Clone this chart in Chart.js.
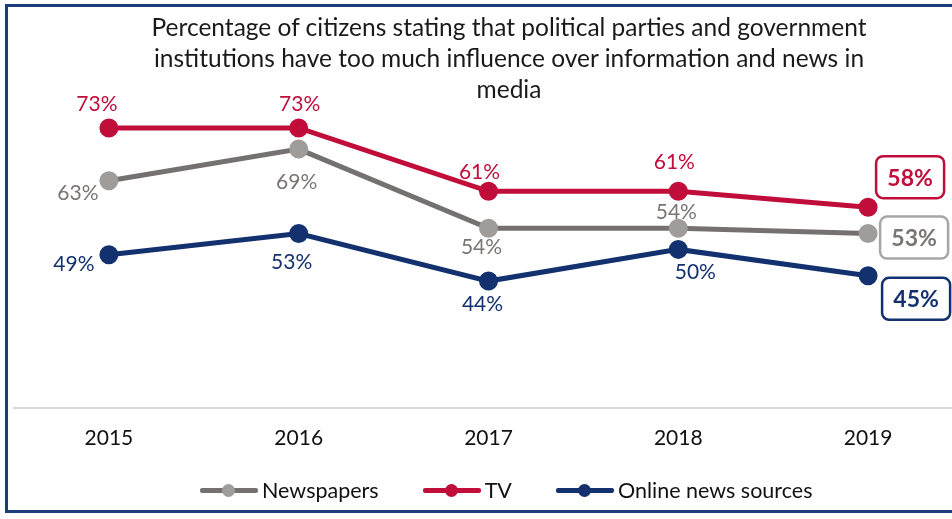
<!DOCTYPE html>
<html>
<head>
<meta charset="utf-8">
<script src="https://cdn.jsdelivr.net/npm/chart.js@4.4.1/dist/chart.umd.min.js"></script>
<style>
  html, body { margin: 0; padding: 0; background: #fff; overflow: hidden; }
  #wrap { position: relative; width: 952px; height: 519px; overflow: hidden; }
  #frame {
    position: absolute; left: 5px; top: 4px; width: 1000px; height: 509px;
    border: 3px solid #1c3d7a; box-sizing: border-box; pointer-events: none;
  }
  #chart { position: absolute; left: 0; top: 0; }
  #title {
    position: absolute; top: 11px; left: 509px; transform: translateX(-50%);
    white-space: nowrap; text-align: center;
    font-family: Lato, "Open Sans", sans-serif; font-size: 24.5px; line-height: 31px; color: #1a1a1a;
  }
  #legend {
    position: absolute; top: 477px; left: 200px; display: flex; align-items: center;
    font-family: Lato, "Open Sans", sans-serif; font-size: 21.5px; color: #111;
  }
  .item { display: flex; align-items: center; margin-right: 44px; }
  .swatch { position: relative; width: 58px; height: 5px; margin-right: 4px; border-radius: 2px; }
  .swatch::after {
    content: ""; position: absolute; left: 22px; top: -4px; width: 13px; height: 13px;
    border-radius: 50%; background: var(--dot);
  }
</style>
</head>
<body>
<div id="wrap">
  <canvas id="chart" width="990" height="519" style="width:990px;height:519px"></canvas>
  <div id="title">Percentage of citizens stating that political parties and government<br>institutions have too much influence over information and news in<br>media</div>
  <div id="legend"></div>
  <div id="frame"></div>
</div>
<script>
const years = ['2015', '2016', '2017', '2018', '2019'];
const newspapers = [63, 69, 54, 54, 53];
const tv = [73, 73, 61, 61, 58];
const online = [49, 53, 44, 50, 45];
const seriesNames = ['Newspapers', 'TV', 'Online news sources'];

const lineColors = ['#767171', '#c00d3a', '#12316e'];
const pointColors = ['#a09c9a', '#c00d3a', '#12316e'];
const labelColors = ['#7a7573', '#c00d3a', '#12316e'];
const boxBorders = ['#a6a6a6', '#c00d3a', '#12316e'];

// label offsets from each point, per series (last one is the boxed end label)
const labelOffsets = [
  [[-31, 11], [-2, 32], [-7, 18], [-2, -17], [46, 4]],
  [[-12, -25], [1, -25], [-9, -20], [-4, -30], [42, -30]],
  [[-35, 9], [-7, 28], [-6, 22], [17, 22], [48, 23]]
];

const valueLabels = {
  id: 'valueLabels',
  afterDatasetsDraw(chart) {
    const ctx = chart.ctx;
    ctx.save();
    ctx.textAlign = 'center';
    ctx.textBaseline = 'middle';
    chart.data.datasets.forEach((ds, i) => {
      const meta = chart.getDatasetMeta(i);
      meta.data.forEach((pt, j) => {
        const [dx, dy] = labelOffsets[i][j];
        const x = pt.x + dx, y = pt.y + dy;
        const text = ds.data[j] + '%';
        if (j === ds.data.length - 1) {
          const w = 68, h = 42, r = 7;
          ctx.beginPath();
          ctx.roundRect(x - w / 2, y - h / 2, w, h, r);
          ctx.fillStyle = '#fff';
          ctx.fill();
          ctx.lineWidth = 2.5;
          ctx.strokeStyle = boxBorders[i];
          ctx.stroke();
          ctx.font = 'bold 23px Lato, "Open Sans", sans-serif';
        } else {
          ctx.font = '21px Lato, "Open Sans", sans-serif';
        }
        ctx.fillStyle = labelColors[i];
        ctx.fillText(text, x, y + 1);
      });
    });
    ctx.restore();
  }
};

const seriesValues = [newspapers, tv, online];
const datasets = seriesNames.map((name, i) => ({
  label: name,
  data: seriesValues[i],
  borderColor: lineColors[i],
  backgroundColor: pointColors[i],
  pointBackgroundColor: pointColors[i],
  pointBorderColor: pointColors[i],
  borderWidth: 5,
  pointRadius: 7,
  pointHoverRadius: 7,
  tension: 0
}));
// draw TV on top, then online, newspapers under
datasets[0].order = 3;
datasets[1].order = 1;
datasets[2].order = 2;

// legend built from the dataset colours
const legendEl = document.getElementById('legend');
seriesNames.forEach((name, i) => {
  const item = document.createElement('div');
  item.className = 'item';
  const sw = document.createElement('span');
  sw.className = 'swatch';
  sw.style.background = lineColors[i];
  sw.style.setProperty('--dot', pointColors[i]);
  item.appendChild(sw);
  item.appendChild(document.createTextNode(name));
  legendEl.appendChild(item);
});

new Chart(document.getElementById('chart'), {
  type: 'line',
  data: { labels: years, datasets: datasets },
  options: {
    responsive: false,
    animation: false,
    events: [],
    layout: { padding: { top: 91, left: 14, right: 27, bottom: 50 } },
    plugins: {
      legend: { display: false },
      title: { display: false },
      tooltip: { enabled: false }
    },
    scales: {
      x: {
        offset: true,
        grid: { display: false, drawTicks: false },
        border: { color: '#d9d9d9', width: 2 },
        ticks: {
          padding: 18,
          color: '#111',
          font: { family: 'Lato, "Open Sans", sans-serif', size: 21 }
        }
      },
      y: {
        display: false,
        min: 20,
        max: 80
      }
    }
  },
  plugins: [valueLabels]
});
</script>
</body>
</html>
